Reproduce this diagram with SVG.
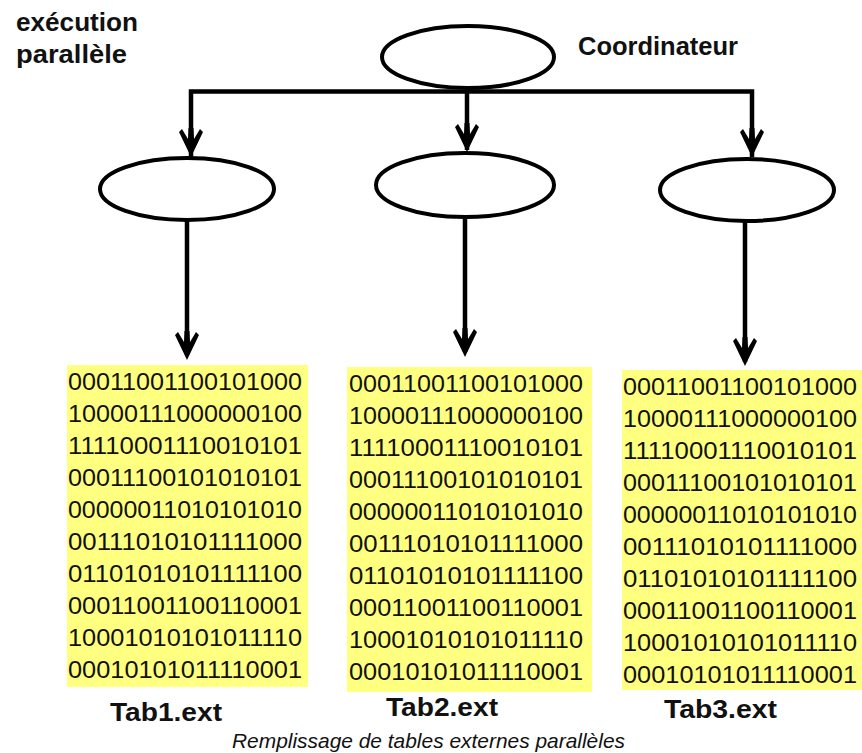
<svg xmlns="http://www.w3.org/2000/svg" width="862" height="753" viewBox="0 0 862 753">
  <style>
    .node { fill: #ffffff; stroke: #000000; stroke-width: 4; }
    .wire { fill: none; stroke: #000000; stroke-width: 4.5; stroke-linecap: butt; stroke-linejoin: miter; }
    .head { fill: #000000; }
    .data { fill: #ffff80; }
    .bits { font-family: "Liberation Sans", Arial, sans-serif; font-size: 23px; fill: #111111; }
    .label { font-family: "Liberation Sans", Arial, sans-serif; font-weight: bold; font-size: 25px; fill: #111111; }
    .caption { font-family: "Liberation Sans", Arial, sans-serif; font-style: italic; font-size: 21px; fill: #111111; }
  </style>
  <defs>
    <!-- barbed arrowhead, tip at origin, pointing down -->
    <path id="ah" class="head" d="M0,0 L-12,-25 L-9,-28 L-3,-18 L-2.5,-29 L2.5,-29 L3,-18 L9,-28 L12,-25 Z"/>
    <g id="bits">
      <text class="bits" x="0" y="0" textLength="234" lengthAdjust="spacingAndGlyphs">00011001100101000</text>
      <text class="bits" x="0" y="32" textLength="234" lengthAdjust="spacingAndGlyphs">10000111000000100</text>
      <text class="bits" x="0" y="64" textLength="234" lengthAdjust="spacingAndGlyphs">11110001110010101</text>
      <text class="bits" x="0" y="96" textLength="234" lengthAdjust="spacingAndGlyphs">00011100101010101</text>
      <text class="bits" x="0" y="128" textLength="234" lengthAdjust="spacingAndGlyphs">00000011010101010</text>
      <text class="bits" x="0" y="160" textLength="234" lengthAdjust="spacingAndGlyphs">00111010101111000</text>
      <text class="bits" x="0" y="192" textLength="234" lengthAdjust="spacingAndGlyphs">01101010101111100</text>
      <text class="bits" x="0" y="224" textLength="234" lengthAdjust="spacingAndGlyphs">00011001100110001</text>
      <text class="bits" x="0" y="256" textLength="234" lengthAdjust="spacingAndGlyphs">10001010101011110</text>
      <text class="bits" x="0" y="288" textLength="234" lengthAdjust="spacingAndGlyphs">00010101011110001</text>
    </g>
  </defs>

  <!-- heading -->
  <text class="label" x="16" y="31" textLength="122" lengthAdjust="spacingAndGlyphs">exécution</text>
  <text class="label" x="16" y="63" textLength="111" lengthAdjust="spacingAndGlyphs">parallèle</text>

  <!-- connectors -->
  <g id="connectors">
    <path class="wire" d="M191,157 V91.5 H752 V157"/>
    <path class="wire" d="M467,89 V150"/>
    <path class="wire" d="M187,220 V355"/>
    <path class="wire" d="M465,218 V352"/>
    <path class="wire" d="M745,221 V362"/>
    <use href="#ah" x="191" y="157"/>
    <use href="#ah" x="467" y="152"/>
    <use href="#ah" x="752" y="157"/>
    <use href="#ah" x="187" y="360"/>
    <use href="#ah" x="465" y="357"/>
    <use href="#ah" x="745" y="366"/>
  </g>

  <!-- coordinator -->
  <g id="coordinateur">
    <ellipse class="node" cx="468" cy="57" rx="86" ry="31"/>
    <text class="label" x="578" y="55" textLength="160" lengthAdjust="spacingAndGlyphs">Coordinateur</text>
  </g>

  <!-- parallel workers -->
  <g id="worker1">
    <ellipse class="node" cx="187" cy="189" rx="87" ry="31"/>
  </g>
  <g id="worker2">
    <ellipse class="node" cx="465" cy="185" rx="89" ry="32"/>
  </g>
  <g id="worker3">
    <ellipse class="node" cx="747" cy="190" rx="87" ry="31"/>
  </g>

  <!-- external tables -->
  <g id="tab1">
    <rect class="data" x="67" y="365" width="241" height="322"/>
    <use href="#bits" x="68" y="390"/>
    <text class="label" x="110" y="721" textLength="112" lengthAdjust="spacingAndGlyphs">Tab1.ext</text>
  </g>
  <g id="tab2">
    <rect class="data" x="347" y="367" width="245" height="325"/>
    <use href="#bits" x="349" y="392"/>
    <text class="label" x="386" y="716" textLength="112" lengthAdjust="spacingAndGlyphs">Tab2.ext</text>
  </g>
  <g id="tab3">
    <rect class="data" x="622" y="370" width="240" height="320"/>
    <use href="#bits" x="623" y="395"/>
    <text class="label" x="664" y="718" textLength="113" lengthAdjust="spacingAndGlyphs">Tab3.ext</text>
  </g>

  <text class="caption" x="232" y="748" textLength="393" lengthAdjust="spacingAndGlyphs">Remplissage de tables externes parallèles</text>
</svg>
